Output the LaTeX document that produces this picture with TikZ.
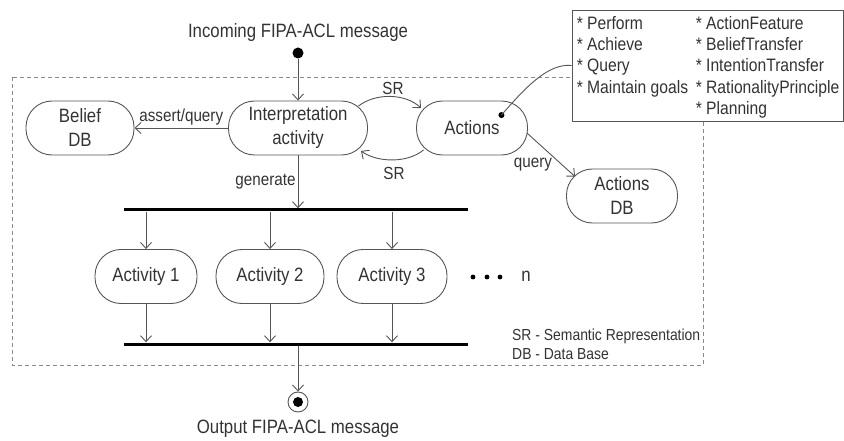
\documentclass[tikz,border=0pt]{standalone}
\usepackage{fontspec}
\setmainfont{Liberation Sans}[FakeStretch=0.87]
\usetikzlibrary{arrows.meta}

\definecolor{ink}{HTML}{333333}
\definecolor{edge}{HTML}{555555}
\definecolor{frameline}{HTML}{8A8A8A}

\newcommand\mainfont{\fontsize{19.3}{24}\selectfont}
\newcommand\lblfont{\fontsize{17.5}{20}\selectfont}
\newcommand\notefont{\fontsize{18}{21.3}\selectfont}
\newcommand\legfont{\fontsize{16}{19}\selectfont}

\begin{document}
\begin{tikzpicture}[x=1pt,y=1pt,
  act/.style={draw=edge, line width=0.9pt, rounded corners=26pt,
    minimum height=54pt, inner sep=0pt, align=center, text=ink, font=\mainfont},
  title/.style={text=ink, font=\mainfont, inner sep=0pt},
  lbl/.style={text=ink, font=\lblfont, inner sep=2pt},
  bar/.style={fill=black, minimum height=3pt, inner sep=0pt, minimum width=344pt},
  arr/.style={draw=edge, line width=0.9pt, -{Straight Barb[length=6pt,width=11pt,line width=0.9pt]}},
  link/.style={draw=edge, line width=0.9pt},
  frame/.style={draw=frameline, line width=0.9pt, dash pattern=on 4pt off 3pt},
  notebox/.style={draw=edge, line width=0.9pt, fill=white, minimum width=271pt,
    minimum height=111pt, inner sep=0pt},
  notetext/.style={text=ink, font=\notefont, align=left, inner sep=0pt, anchor=north west},
  startdot/.style={circle, fill=black, minimum size=11pt, inner sep=0pt},
  enddot/.style={circle, draw=edge, line width=0.9pt, fill=white, minimum size=20pt, inner sep=0pt}
]
\useasboundingbox (0,0) rectangle (844,-441);

% activity boundary
\draw[frame] (12,-77) rectangle (703,-365);

% entry and exit
\node[title] (intxt) at (298,-33) {Incoming FIPA-ACL message};
\node[startdot] (start) at (298,-53) {};
\node[enddot] (end) at (298,-402) {};
\fill[black] (end.center) circle (5);
\node[title] (outtxt) at (298,-429) {Output FIPA-ACL message};

% main states
\node[act, minimum width=139pt] (interp) at (298,-128) {Interpretation\\activity};
\node[act, minimum width=108pt] (belief) at (80,-128) {Belief\\DB};
\node[act, minimum width=111pt] (actions) at (472,-128) {Actions};
\node[act, minimum width=111pt] (adb) at (622,-196) {Actions\\DB};

% fork / join bars
\node[bar] (fork) at (296,-210) {};
\node[bar] (join) at (296,-344) {};

% parallel activities
\node[act, minimum width=102pt] (a1) at (146,-276.5) {Activity 1};
\node[act, minimum width=108pt] (a2) at (270,-276.5) {Activity 2};
\node[act, minimum width=110pt] (a3) at (392,-276.5) {Activity 3};
\foreach \p in {473,487,500} \fill[black] (\p,-277) circle (2.4);
\node[title] (nlabel) at (526,-276) {n};

% note box with the action list
\node[notebox] (note) at (707.5,-65.5) {};
\node[notetext] (noteL) at ([shift={(5,-6.5)}]note.north west)
  {* Perform\\* Achieve\\* Query\\* Maintain goals};
\node[notetext] (noteR) at ([shift={(124,-6.5)}]note.north west)
  {* ActionFeature\\* BeliefTransfer\\* IntentionTransfer\\* RationalityPrinciple\\* Planning};

% legend
\node[text=ink, font=\legfont, align=left, inner sep=0pt, anchor=west] (legend) at (512,-344.5)
  {SR - Semantic Representation\\DB - Data Base};

% connectors
\draw[arr] (start) -- (interp.north);
\draw[arr] (interp.west) -- node[lbl, above] {assert/query} (belief.east);
\draw[arr] (interp.south) -- node[lbl, left] {generate} (interp.south |- fork.north);

\coordinate (srA) at ([shift={(-9.5,-5.5)}]interp.north east);
\coordinate (srB) at ([shift={(5,-7.5)}]actions.north west);
\draw[arr] (srA) .. controls (375,-93) and (405,-93) .. (srB);
\node[lbl] (srtop) at (393,-88) {SR};

\coordinate (srC) at ([shift={(7.5,5.5)}]actions.south west);
\coordinate (srD) at ([shift={(-7,4.5)}]interp.south east);
\draw[arr] (srC) .. controls (408,-163) and (378,-163) .. (srD);
\node[lbl] (srbot) at (394,-173) {SR};

\coordinate (qA) at ([shift={(-1,-5)}]actions.east);
\coordinate (qB) at ([shift={(9,-8)}]adb.north west);
\draw[arr] (qA) -- (qB);
\node[lbl] (qlabel) at (533,-165) {query};

\coordinate (adot) at ([shift={(-26.5,-14.5)}]actions.north east);
\fill[black] (adot) circle (3);
\draw[link] (adot) .. controls (525,-88) and (548,-63) .. (note.west);

\foreach \n in {a1,a2,a3} {
  \draw[arr] (\n.north |- fork.south) -- (\n.north);
  \draw[arr] (\n.south) -- (\n.south |- join.north);
}
\draw[arr] (end.north |- join.south) -- (end.north);
\end{tikzpicture}
\end{document}
